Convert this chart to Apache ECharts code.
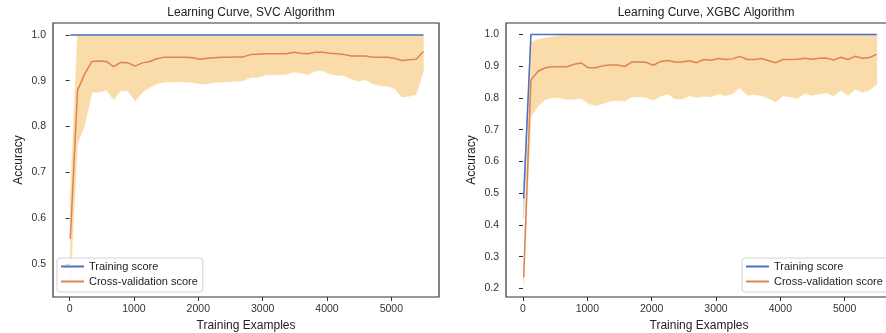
<!DOCTYPE html>
<html>
<head>
<meta charset="utf-8">
<script src="https://cdn.jsdelivr.net/npm/echarts@6/dist/echarts.min.js"></script>
<style>
  html, body { margin: 0; padding: 0; background: #ffffff; }
  #chart { width: 886px; height: 333px; }
</style>
</head>
<body>
<div id="chart"></div>
<script>
// training set sizes (50 steps), shared by both learning curves
const trainSizes = [
  11, 123, 235, 347, 459, 571, 683, 795, 907, 1019,
  1131, 1243, 1355, 1467, 1579, 1691, 1803, 1915, 2027, 2139,
  2251, 2363, 2475, 2587, 2699, 2811, 2923, 3035, 3147, 3259,
  3371, 3483, 3595, 3707, 3819, 3931, 4043, 4155, 4267, 4379,
  4491, 4603, 4715, 4827, 4939, 5051, 5163, 5275, 5387, 5499
];

// SVC
const svcTrainMean = [
  1.0, 1.0, 1.0, 1.0, 1.0, 1.0, 1.0, 1.0, 1.0, 1.0,
  1.0, 1.0, 1.0, 1.0, 1.0, 1.0, 1.0, 1.0, 1.0, 1.0,
  1.0, 1.0, 1.0, 1.0, 1.0, 1.0, 1.0, 1.0, 1.0, 1.0,
  1.0, 1.0, 1.0, 1.0, 1.0, 1.0, 1.0, 1.0, 1.0, 1.0,
  1.0, 1.0, 1.0, 1.0, 1.0, 1.0, 1.0, 1.0, 1.0, 1.0
];
const svcCvMean = [
  0.555, 0.879, 0.915, 0.942, 0.943, 0.942, 0.931, 0.940, 0.939, 0.932,
  0.939, 0.942, 0.948, 0.951, 0.951, 0.951, 0.951, 0.950, 0.947, 0.949,
  0.950, 0.951, 0.951, 0.952, 0.952, 0.957, 0.958, 0.959, 0.959, 0.959,
  0.959, 0.962, 0.960, 0.959, 0.962, 0.962, 0.960, 0.959, 0.957, 0.954,
  0.954, 0.954, 0.951, 0.951, 0.951, 0.949, 0.944, 0.946, 0.947, 0.964
];
const svcCvLow = [
  0.456, 0.763, 0.803, 0.875, 0.875, 0.880, 0.859, 0.878, 0.877, 0.856,
  0.875, 0.885, 0.893, 0.897, 0.897, 0.898, 0.897, 0.896, 0.893, 0.893,
  0.896, 0.897, 0.898, 0.899, 0.900, 0.907, 0.907, 0.912, 0.913, 0.913,
  0.914, 0.919, 0.917, 0.913, 0.921, 0.922, 0.915, 0.912, 0.911, 0.904,
  0.899, 0.902, 0.893, 0.889, 0.888, 0.883, 0.864, 0.866, 0.870, 0.922
];
const svcCvHigh = [
  0.645, 1.0, 1.0, 1.0, 1.0, 1.0, 1.0, 1.0, 1.0, 1.0,
  1.0, 1.0, 1.0, 1.0, 1.0, 1.0, 1.0, 1.0, 1.0, 1.0,
  1.0, 1.0, 1.0, 1.0, 1.0, 1.0, 1.0, 1.0, 1.0, 1.0,
  1.0, 1.0, 1.0, 1.0, 1.0, 1.0, 1.0, 1.0, 1.0, 1.0,
  1.0, 1.0, 1.0, 1.0, 1.0, 1.0, 1.0, 1.0, 1.0, 1.0
];

// XGBC
const xgbTrainMean = [
  0.483, 1.0, 1.0, 1.0, 1.0, 1.0, 1.0, 1.0, 1.0, 1.0,
  1.0, 1.0, 1.0, 1.0, 1.0, 1.0, 1.0, 1.0, 1.0, 1.0,
  1.0, 1.0, 1.0, 1.0, 1.0, 1.0, 1.0, 1.0, 1.0, 1.0,
  1.0, 1.0, 1.0, 1.0, 1.0, 1.0, 1.0, 1.0, 1.0, 1.0,
  1.0, 1.0, 1.0, 1.0, 1.0, 1.0, 1.0, 1.0, 1.0, 1.0
];
const xgbTrainLow = [
  0.420, 1.0, 1.0, 1.0, 1.0, 1.0, 1.0, 1.0, 1.0, 1.0,
  1.0, 1.0, 1.0, 1.0, 1.0, 1.0, 1.0, 1.0, 1.0, 1.0,
  1.0, 1.0, 1.0, 1.0, 1.0, 1.0, 1.0, 1.0, 1.0, 1.0,
  1.0, 1.0, 1.0, 1.0, 1.0, 1.0, 1.0, 1.0, 1.0, 1.0,
  1.0, 1.0, 1.0, 1.0, 1.0, 1.0, 1.0, 1.0, 1.0, 1.0
];
const xgbTrainHigh = [
  0.546, 1.0, 1.0, 1.0, 1.0, 1.0, 1.0, 1.0, 1.0, 1.0,
  1.0, 1.0, 1.0, 1.0, 1.0, 1.0, 1.0, 1.0, 1.0, 1.0,
  1.0, 1.0, 1.0, 1.0, 1.0, 1.0, 1.0, 1.0, 1.0, 1.0,
  1.0, 1.0, 1.0, 1.0, 1.0, 1.0, 1.0, 1.0, 1.0, 1.0,
  1.0, 1.0, 1.0, 1.0, 1.0, 1.0, 1.0, 1.0, 1.0, 1.0
];
const xgbCvMean = [
  0.235, 0.856, 0.884, 0.895, 0.898, 0.898, 0.898, 0.906, 0.910, 0.895,
  0.895, 0.901, 0.904, 0.904, 0.899, 0.913, 0.913, 0.912, 0.903, 0.915,
  0.918, 0.913, 0.913, 0.917, 0.911, 0.921, 0.919, 0.924, 0.921, 0.923,
  0.931, 0.921, 0.921, 0.924, 0.917, 0.911, 0.921, 0.921, 0.922, 0.925,
  0.922, 0.925, 0.926, 0.919, 0.928, 0.921, 0.931, 0.925, 0.927, 0.938
];
const xgbCvLow = [
  0.209, 0.740, 0.774, 0.795, 0.801, 0.800, 0.795, 0.796, 0.798, 0.782,
  0.776, 0.782, 0.790, 0.792, 0.790, 0.803, 0.803, 0.801, 0.793, 0.805,
  0.812, 0.797, 0.797, 0.807, 0.801, 0.805, 0.803, 0.812, 0.807, 0.813,
  0.832, 0.808, 0.811, 0.807, 0.798, 0.787, 0.807, 0.803, 0.798, 0.814,
  0.808, 0.812, 0.816, 0.805, 0.824, 0.808, 0.827, 0.818, 0.824, 0.843
];
const xgbCvHigh = [
  0.262, 0.975, 0.984, 0.989, 0.993, 0.997, 0.999, 1.0, 1.0, 1.0,
  1.0, 1.0, 1.0, 1.0, 1.0, 1.0, 1.0, 1.0, 1.0, 1.0,
  1.0, 1.0, 1.0, 1.0, 1.0, 1.0, 1.0, 1.0, 1.0, 1.0,
  1.0, 1.0, 1.0, 1.0, 1.0, 1.0, 1.0, 1.0, 1.0, 1.0,
  1.0, 1.0, 1.0, 1.0, 1.0, 1.0, 1.0, 1.0, 1.0, 1.0
];

const xTicks = [0, 1000, 2000, 3000, 4000, 5000];
const svcYTicks = [0.5, 0.6, 0.7, 0.8, 0.9, 1.0];
const xgbYTicks = [0.2, 0.3, 0.4, 0.5, 0.6, 0.7, 0.8, 0.9, 1.0];

const FONT = "'Liberation Sans', Arial, sans-serif";
const BLUE = "#4a72c0";
const ORANGE = "#dd8452";
const ORANGE_FILL = "#f9dcaa";
const BLUE_FILL = "rgba(76, 114, 192, 0.28)";
const INK = "#333333";

const pairs = (ys) => trainSizes.map((x, i) => [x, ys[i]]);

// mean +/- std band as one polygon, positioned through the axis scales
function band(idx, lo, hi, color) {
  const rows = trainSizes.map((x, i) => [x, lo[i], hi[i]]);
  return {
    type: "custom", xAxisIndex: idx, yAxisIndex: idx, silent: true, z: 1,
    data: rows,
    encode: { x: 0, y: [1, 2] },
    renderItem: (params, api) => {
      if (params.dataIndex !== 0) return;
      const lower = rows.map((r) => api.coord([r[0], r[1]]));
      const upper = rows.map((r) => api.coord([r[0], r[2]])).reverse();
      return {
        type: "polygon",
        shape: { points: lower.concat(upper) },
        style: { fill: color, stroke: color, lineWidth: 0.5 },
      };
    },
  };
}

function curve(idx, name, ys, color) {
  return {
    name: name, type: "line", xAxisIndex: idx, yAxisIndex: idx,
    data: pairs(ys), symbol: "none", z: 3,
    color: color,
    lineStyle: { color: color, width: 1.5 },
  };
}

function xAxis(idx, min, max) {
  return {
    type: "value", gridIndex: idx, min: min, max: max,
    name: "Training Examples", nameLocation: "middle", nameGap: 21,
    nameTextStyle: { color: "#222", fontSize: 12, fontFamily: FONT },
    axisLine: { show: false },
    axisTick: { show: true, length: 4, customValues: xTicks, lineStyle: { color: INK, width: 1 } },
    axisLabel: {
      customValues: xTicks, color: INK, fontSize: 10.5, fontFamily: FONT, margin: 7,
      formatter: (v) => String(v),
    },
    splitLine: { show: false },
  };
}

function yAxis(idx, min, max, ticks) {
  return {
    type: "value", gridIndex: idx, min: min, max: max,
    name: "Accuracy", nameLocation: "middle", nameGap: 28,
    nameTextStyle: { color: "#222", fontSize: 12, fontFamily: FONT },
    axisLine: { show: false },
    axisTick: { show: true, length: 4, customValues: ticks, lineStyle: { color: INK, width: 1 } },
    axisLabel: {
      customValues: ticks, color: INK, fontSize: 10.5, fontFamily: FONT, margin: 7,
      formatter: (v) => v.toFixed(1),
    },
    splitLine: { show: false },
  };
}

function legend(left) {
  return {
    left: left, top: 258, orient: "vertical",
    data: ["Training score", "Cross-validation score"],
    icon: "rect", itemWidth: 23, itemHeight: 2, itemGap: 2,
    padding: [2, 5, 4, 4],
    backgroundColor: "rgba(255,255,255,0.8)",
    borderColor: "#d4d4d4", borderWidth: 1, borderRadius: 3,
    textStyle: { color: "#222", fontSize: 11, fontFamily: FONT, lineHeight: 13 },
    selectedMode: false,
  };
}

const chart = echarts.init(document.getElementById("chart"), null, { renderer: "canvas" });
chart.setOption({
  animation: false,
  backgroundColor: "#ffffff",
  textStyle: { fontFamily: FONT },
  title: [
    { text: "Learning Curve, SVC Algorithm", left: 246, top: 2, textAlign: "center",
      textStyle: { color: "#222", fontSize: 12, fontWeight: "normal", fontFamily: FONT } },
    { text: "Learning Curve, XGBC Algorithm", left: 701, top: 2, textAlign: "center",
      textStyle: { color: "#222", fontSize: 12, fontWeight: "normal", fontFamily: FONT } },
  ],
  grid: [
    { left: 53, top: 23, width: 386, height: 274, outerBoundsMode: "none",
      show: true, borderColor: INK, borderWidth: 1.2, backgroundColor: "#fff" },
    // the right panel runs past the edge of the picture, as in the source image
    { left: 506, top: 23, width: 386, height: 274, outerBoundsMode: "none",
      show: true, borderColor: INK, borderWidth: 1.2, backgroundColor: "#fff" },
  ],
  xAxis: [xAxis(0, -258, 5741), xAxis(1, -264, 5735)],
  yAxis: [yAxis(0, 0.428, 1.026, svcYTicks), yAxis(1, 0.173, 1.036, xgbYTicks)],
  legend: [legend(57), legend(742)],
  series: [
    band(0, svcCvLow, svcCvHigh, ORANGE_FILL),
    curve(0, "Training score", svcTrainMean, BLUE),
    curve(0, "Cross-validation score", svcCvMean, ORANGE),
    band(1, xgbCvLow, xgbCvHigh, ORANGE_FILL),
    band(1, xgbTrainLow, xgbTrainHigh, BLUE_FILL),
    curve(1, "Training score", xgbTrainMean, BLUE),
    curve(1, "Cross-validation score", xgbCvMean, ORANGE),
  ],
});
</script>
</body>
</html>
